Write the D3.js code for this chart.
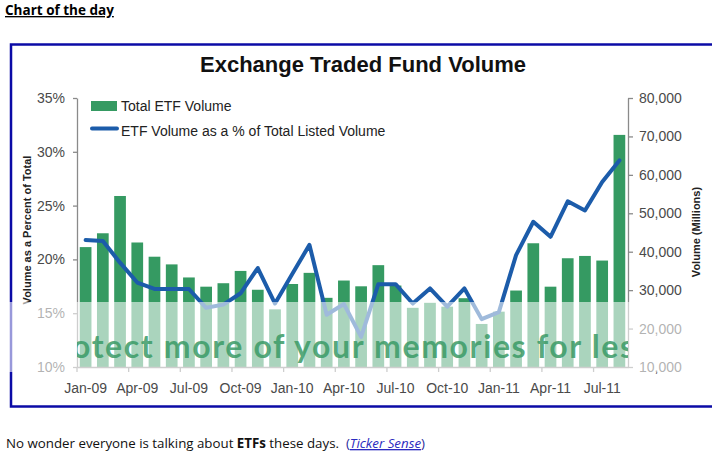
<!DOCTYPE html>
<html lang="en">
<head>
<meta charset="utf-8">
<title>Exchange Traded Fund Volume</title>
<script src="https://d3js.org/d3.v7.min.js"></script>
<style>
  body { margin: 0; background: #fff; }
  svg text { font-family: "Liberation Sans", Arial, sans-serif; }
</style>
</head>
<body>
<script>

// Data
var months = ["Jan-09","Feb-09","Mar-09","Apr-09","May-09","Jun-09","Jul-09","Aug-09","Sep-09","Oct-09","Nov-09","Dec-09",
              "Jan-10","Feb-10","Mar-10","Apr-10","May-10","Jun-10","Jul-10","Aug-10","Sep-10","Oct-10","Nov-10","Dec-10",
              "Jan-11","Feb-11","Mar-11","Apr-11","May-11","Jun-11","Jul-11","Aug-11"];

// Total ETF volume, millions
var volume = [41200, 44800, 54500, 42400, 38700, 36700, 33300, 30900, 31800, 35000, 30100, 25000,
              31600, 34500, 28000, 32500, 31000, 36500, 31200, 25400, 26700, 25700, 27900, 21200,
              24400, 29900, 42200, 30900, 38300, 38900, 37700, 70400];

// ETF volume as % of total listed volume
var pctOfTotal = [21.8, 21.7, 19.7, 17.85, 17.25, 17.25, 17.25, 15.5, 15.8, 16.85, 19.2, 15.9,
                  18.65, 21.35, 14.85, 15.85, 12.8, 17.7, 17.7, 15.9, 17.3, 15.6, 17.3, 14.45,
                  15.1, 20.4, 23.5, 22.1, 25.4, 24.55, 27.2, 29.2];

var pctTicks = [10, 15, 20, 25, 30, 35];
var volTicks = [10000, 20000, 30000, 40000, 50000, 60000, 70000, 80000];
var xLabels = ["Jan-09","Apr-09","Jul-09","Oct-09","Jan-10","Apr-10","Jul-10","Oct-10","Jan-11","Apr-11","Jul-11"];

var w = 712, h = 460;
var plot = {left: 77, right: 628, top: 98, bottom: 367};

var barColor = "#359a62";
var lineColor = "#1c5caa";
var axisColor = "#8a8a8a";
var labelColor = "#4a4a4a";

// Create SVG element
var svg = d3.select("body")
  .append("svg")
  .attr("width", w)
  .attr("height", h);

// Page header
svg.append("text")
  .attr("x", 5)
  .attr("y", 15)
  .attr("text-decoration", "underline")
  .style("font-family", "'Open Sans', sans-serif")
  .style("font-weight", "bold")
  .style("font-size", "13.5px")
  .attr("fill", "#000")
  .text("Chart of the day");

// Blue frame round the chart
svg.append("rect")
  .attr("x", 11)
  .attr("y", 44.5)
  .attr("width", w)
  .attr("height", 362)
  .attr("fill", "#fff")
  .attr("stroke", "#0b0ba6")
  .attr("stroke-width", 2.5);

// Scales
var x = d3.scaleBand()
  .domain(months)
  .range([plot.left, plot.right])
  .paddingInner(0.32)
  .paddingOuter(0.16);

var yPct = d3.scaleLinear().domain([10, 35]).range([plot.bottom, plot.top]);
var yVol = d3.scaleLinear().domain([10000, 80000]).range([plot.bottom, plot.top]);

// Bars
svg.append("g")
  .selectAll("rect")
  .data(volume)
  .enter().append("rect")
  .attr("x", (d, i) => x(months[i]))
  .attr("y", d => yVol(d))
  .attr("width", x.bandwidth())
  .attr("height", d => yVol.range()[0] - yVol(d))
  .attr("fill", barColor);

// Line
var line = d3.line()
  .x((d, i) => x(months[i]) + x.bandwidth() / 2)
  .y(d => yPct(d));

svg.append("path")
  .datum(pctOfTotal)
  .attr("d", line)
  .attr("fill", "none")
  .attr("stroke", lineColor)
  .attr("stroke-width", 4)
  .attr("stroke-linejoin", "round")
  .attr("stroke-linecap", "round");

// Axes
function styleAxis(g) {
  g.attr("font-family", null).attr("font-size", null);
  g.select(".domain").attr("stroke", axisColor).attr("stroke-width", 1.3);
  g.selectAll(".tick line").attr("stroke", axisColor).attr("stroke-width", 1.3);
  g.selectAll(".tick text").attr("fill", labelColor).style("font-size", "14px");
}

svg.append("g")
  .attr("transform", `translate(${plot.left},0)`)
  .call(d3.axisLeft(yPct).tickValues(pctTicks).tickFormat(d => d + "%")
    .tickSize(4).tickSizeOuter(0).tickPadding(8))
  .call(styleAxis);

svg.append("g")
  .attr("transform", `translate(${plot.right},0)`)
  .call(d3.axisRight(yVol).tickValues(volTicks).tickFormat(d3.format(","))
    .tickSize(5).tickSizeOuter(0).tickPadding(6))
  .call(styleAxis);

var xAxis = svg.append("g")
  .attr("transform", `translate(0,${plot.bottom})`)
  .call(d3.axisBottom(x).tickValues(xLabels).tickSize(0).tickSizeOuter(0).tickPadding(16))
  .call(styleAxis);

// x tick marks sit between categories, every 3 months
xAxis.selectAll(".qtr")
  .data(xLabels)
  .enter().append("line")
  .attr("class", "qtr")
  .attr("x1", d => x(d) - x.step() * x.paddingInner() / 2)
  .attr("x2", d => x(d) - x.step() * x.paddingInner() / 2)
  .attr("y1", 0)
  .attr("y2", 5)
  .attr("stroke", axisColor)
  .attr("stroke-width", 1.3);

// Title
svg.append("text")
  .attr("x", 363)
  .attr("y", 72)
  .attr("text-anchor", "middle")
  .style("font-weight", "bold")
  .style("font-size", "22px")
  .attr("fill", "#111")
  .text("Exchange Traded Fund Volume");

// Axis titles
svg.append("text")
  .attr("transform", "translate(31,230) rotate(-90)")
  .attr("text-anchor", "middle")
  .style("font-weight", "bold")
  .style("font-size", "11px")
  .attr("fill", "#222")
  .text("Volume as a Percent of Total");

svg.append("text")
  .attr("transform", "translate(700,232) rotate(-90)")
  .attr("text-anchor", "middle")
  .style("font-weight", "bold")
  .style("font-size", "11px")
  .attr("fill", "#222")
  .text("Volume (Millions)");

// Legend
var legend = svg.append("g").attr("transform", "translate(91,0)");
legend.append("rect")
  .attr("x", 0).attr("y", 101)
  .attr("width", 26).attr("height", 10)
  .attr("fill", barColor);
legend.append("text")
  .attr("x", 30).attr("y", 111)
  .style("font-size", "14px")
  .attr("fill", "#222")
  .text("Total ETF Volume");
legend.append("line")
  .attr("x1", 1).attr("x2", 26)
  .attr("y1", 128.5).attr("y2", 128.5)
  .attr("stroke", lineColor)
  .attr("stroke-width", 4)
  .attr("stroke-linecap", "round");
legend.append("text")
  .attr("x", 30).attr("y", 135.5)
  .style("font-size", "14px")
  .attr("fill", "#222")
  .text("ETF Volume as a % of Total Listed Volume");

// Image-host watermark band across the lower part of the picture
svg.append("rect")
  .attr("x", 0).attr("y", 302)
  .attr("width", w).attr("height", 70)
  .attr("fill", "#fff")
  .attr("fill-opacity", 0.58);

svg.append("clipPath")
  .attr("id", "plotClip")
  .append("rect")
  .attr("x", plot.left).attr("y", 302)
  .attr("width", plot.right - plot.left).attr("height", 70);

svg.append("text")
  .attr("clip-path", "url(#plotClip)")
  .attr("x", 72)
  .attr("y", 358)
  .attr("textLength", 562)
  .attr("lengthAdjust", "spacing")
  .style("font-family", "Lato, sans-serif")
  .style("font-weight", "bold")
  .style("font-size", "32px")
  .attr("fill", "#3a9a66")
  .attr("fill-opacity", 0.85)
  .text("otect more of your memories for les");

// Footer line
var foot = svg.append("text")
  .attr("x", 6)
  .attr("y", 448)
  .style("font-family", "'Open Sans', sans-serif")
  .style("font-size", "13.3px")
  .attr("fill", "#111");
foot.append("tspan").text("No wonder everyone is talking about ");
foot.append("tspan").style("font-weight", "bold").text("ETFs");
foot.append("tspan").text(" these days.\u00a0 ");
foot.append("tspan").attr("fill", "#2a2a9a").text("(");
foot.append("tspan")
  .attr("fill", "#2b2bc0")
  .style("font-style", "italic")
  .attr("text-decoration", "underline")
  .text("Ticker Sense");
foot.append("tspan").attr("fill", "#2a2a9a").text(")");

</script>
</body>
</html>
